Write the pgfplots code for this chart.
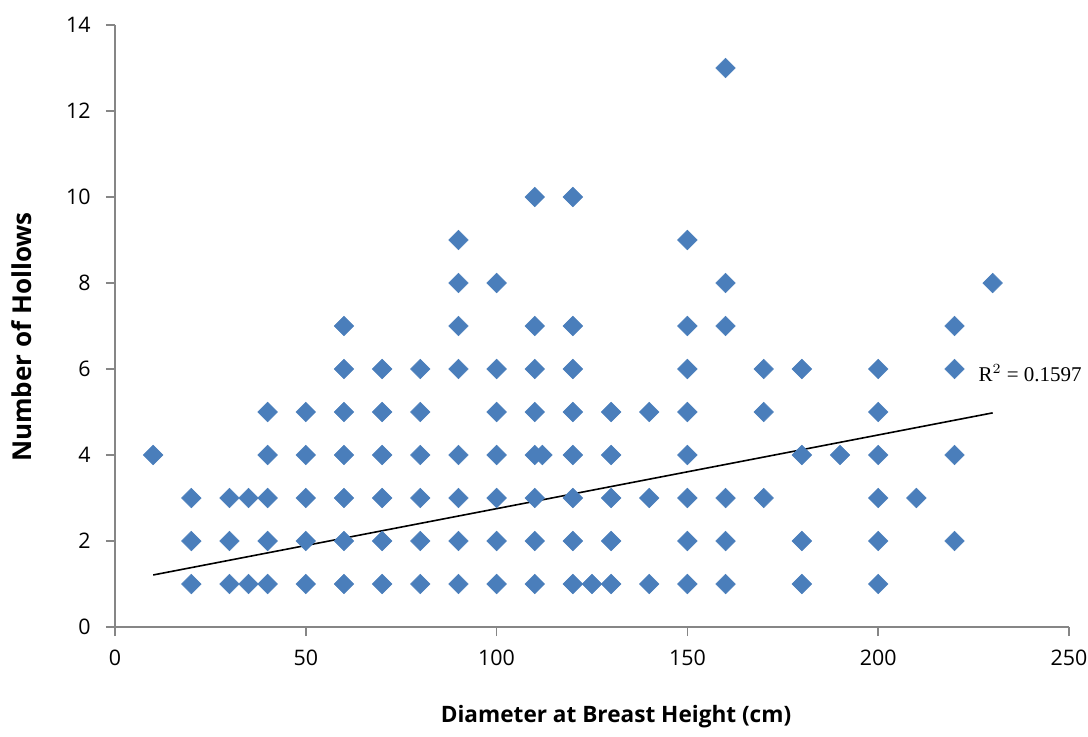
\documentclass[border=0pt]{standalone}
\usepackage{pgfplots}
\pgfplotsset{compat=1.18}
\usepackage{fontspec}
\setmainfont{Open Sans}
\newfontfamily\rfont{Liberation Serif}
\definecolor{pt}{HTML}{4A7EBB}
\definecolor{ax}{HTML}{868686}
\begin{document}
\begin{tikzpicture}
\useasboundingbox (-57.5pt,-54.5pt) rectangle (486.5pt,313.5pt);
\begin{axis}[
  anchor=south west, at={(0pt,0pt)},
  scale only axis, width=477pt, height=301pt,
  xmin=0, xmax=250, ymin=0, ymax=14,
  xtick={0,50,...,250}, ytick={0,2,...,14},
  axis x line*=bottom, axis y line*=left,
  axis line style={color=ax, line width=0.75pt, -},
  tick style={color=ax, line width=0.75pt},
  tick align=outside, major tick length=4.5pt,
  /pgf/number format/assume math mode=true,
  ticklabel style={font=\fontsize{10.7}{12}\selectfont, text=black},
  yticklabel style={anchor=east, inner sep=0pt, xshift=-7.5pt},
  xticklabel style={anchor=north, inner sep=0pt, yshift=-7pt},
  xlabel={Diameter at Breast Height (cm)},
  ylabel={Number of Hollows},
  xlabel style={font=\fontsize{11.3}{13}\selectfont\bfseries, at={(axis description cs:0.5252,-0.1495)}, anchor=center},
  ylabel style={font=\fontsize{13}{15}\selectfont\bfseries, at={(axis description cs:-0.0975,0.4817)}, anchor=center},
  clip=false,
]
\addplot[only marks, mark=square*, mark size=3.45pt,
  mark options={rotate=45, fill=pt, draw=pt, line width=0.3pt}] coordinates {
(10,4)
(20,1)(20,2)(20,3)
(30,1)(30,2)(30,3)
(35,1)(35,3)
(40,1)(40,2)(40,3)(40,4)(40,5)
(50,1)(50,2)(50,3)(50,4)(50,5)
(60,1)(60,2)(60,3)(60,4)(60,5)(60,6)(60,7)
(70,1)(70,2)(70,3)(70,4)(70,5)(70,6)
(80,1)(80,2)(80,3)(80,4)(80,5)(80,6)
(90,1)(90,2)(90,3)(90,4)(90,6)(90,7)(90,8)(90,9)
(100,1)(100,2)(100,3)(100,4)(100,5)(100,6)(100,8)
(110,1)(110,2)(110,3)(110,4)(110,5)(110,6)(110,7)(110,10)
(112,4)
(120,1)(120,2)(120,3)(120,4)(120,5)(120,6)(120,7)(120,10)
(125,1)
(130,1)(130,2)(130,3)(130,4)(130,5)
(140,1)(140,3)(140,5)
(150,1)(150,2)(150,3)(150,4)(150,5)(150,6)(150,7)(150,9)
(160,1)(160,2)(160,3)(160,7)(160,8)(160,13)
(170,3)(170,5)(170,6)
(180,1)(180,2)(180,4)(180,6)
(190,4)
(200,1)(200,2)(200,3)(200,4)(200,5)(200,6)
(210,3)
(220,2)(220,4)(220,6)(220,7)
(230,8)
};
\addplot[black, line width=0.8pt, no marks] coordinates {(10,1.21) (230,4.98)};
\node[anchor=west, inner sep=0pt, font=\rfont\fontsize{10.5}{12}\selectfont] at (axis cs:226.2,5.9) {R$^2$ = 0.1597};
\end{axis}
\end{tikzpicture}
\end{document}
